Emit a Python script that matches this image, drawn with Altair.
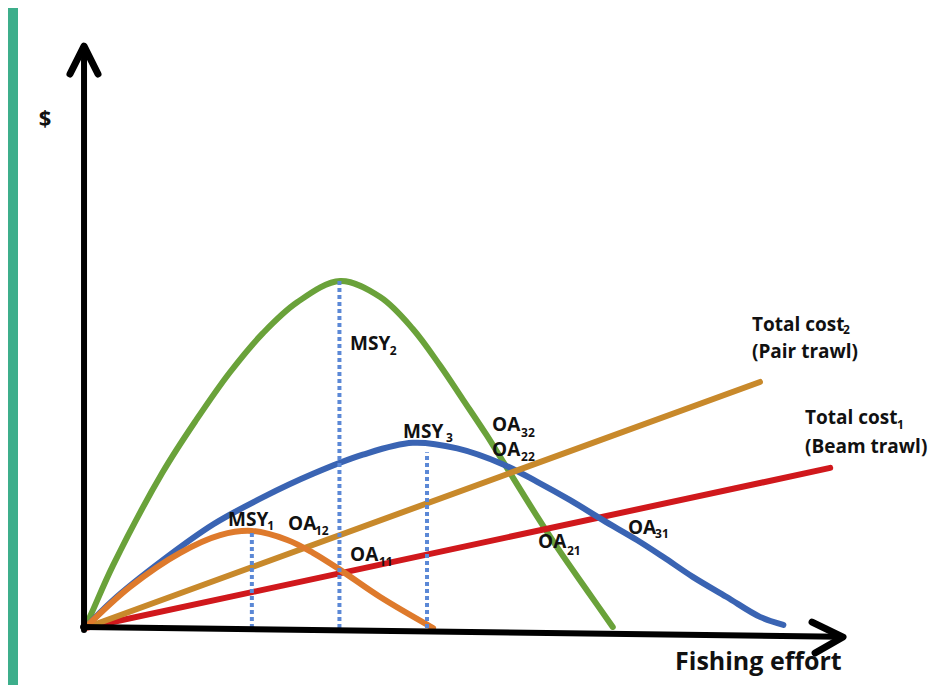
import altair as alt
import pandas as pd

# ---- data (x = fishing effort units, y = $ units) ----
green_E = [0, 1.06, 3.71, 10.3, 14.8, 19.2, 23.6, 28.1, 33.8, 39.1, 43.4, 47.0, 50.1, 53.2, 55.6, 59.9, 62.9, 66.5, 69.9]
green_V = [0, 5.2, 18.0, 44.8, 60.0, 73.5, 84.8, 93.6, 99.7, 95.1, 86.0, 75.5, 65.5, 55.4, 47.0, 32.0, 22.0, 10.8, 0.3]

orange_E = [0, 5.96, 12.6, 17.9, 22.1, 26.8, 30.2, 33.8, 39.1, 46.1]
orange_V = [0, 11.8, 21.6, 26.7, 27.9, 25.3, 21.6, 16.7, 8.9, 0]

blue_E = [0, 3.71, 10.3, 17.0, 23.6, 30.2, 36.8, 43.4, 49.3, 55.4, 59.9, 64.2, 68.6, 73.1, 76.6, 80.5, 85.0, 89.4, 92.5]
blue_V = [0, 8.0, 19.5, 29.8, 37.6, 44.3, 49.8, 53.2, 51.6, 47.0, 42.0, 36.8, 31.0, 25.3, 20.4, 14.7, 8.9, 3.2, 0.9]

cost2_E = [0, 89.4]   # Pair trawl
cost2_V = [0, 70.7]
cost1_E = [0, 98.7]   # Beam trawl
cost1_V = [0, 46.0]

msy_E = [22.1, 33.7, 45.3]
msy_V = [27.9, 99.7, 50.5]

# axes with arrowheads
yaxis_E = [-0.13, -0.13]
yaxis_V = [-0.6, 166.0]
yhead_E = [-1.99, -0.13, 1.72]
yhead_V = [159.2, 167.2, 159.2]
xaxis_E = [-0.26, 100.0]
xaxis_V = [0.3, -2.5]
xhead_E = [96.3, 100.4, 96.7]
xhead_V = [1.7, -2.6, -7.2]

# labels: main text and subscripts
lab_text = ["MSY", "OA", "OA", "MSY", "MSY", "OA", "OA", "OA", "OA",
            "Total cost", "(Pair trawl)", "Total cost", "(Beam trawl)"]
lab_E = [18.94, 26.89, 35.10, 35.10, 42.12, 53.91, 53.91, 60.0, 71.92, 88.34, 88.34, 95.36, 95.36]
lab_V = [31.03, 29.89, 20.98, 81.61, 56.32, 58.20, 51.15, 24.71, 28.74, 87.07, 79.31, 60.34, 52.01]

sub_text = ["1", "12", "11", "2", "3", "32", "22", "21", "31", "2", "1"]
sub_E = [24.15, 30.46, 38.94, 40.35, 47.80, 57.75, 57.75, 63.84, 75.50, 100.40, 107.55]
sub_V = [29.31, 27.87, 18.97, 79.60, 54.60, 55.90, 49.14, 22.13, 27.01, 85.63, 58.33]

axis_text = ["$", "Fishing effort"]
axis_E = [-5.30, 78.15]
axis_V = [146.3, -9.77]

# ---- scales ----
xs = alt.Scale(domain=[-10.2, 112.98], nice=False, zero=False)
ys = alt.Scale(domain=[-16.38, 178.16], nice=False, zero=False)


def X(f="E"):
    return alt.X(f"{f}:Q", scale=xs, axis=None)


def Y(f="V"):
    return alt.Y(f"{f}:Q", scale=ys, axis=None)


def line_layer(E, V, color, width=6, interp="catmull-rom"):
    df = pd.DataFrame({"E": E, "V": V})
    return alt.Chart(df).mark_line(color=color, strokeWidth=width, interpolate=interp,
                                   strokeCap="round", strokeJoin="round").encode(x=X(), y=Y())


band = alt.Chart(pd.DataFrame({"a": [0]})).mark_rect(color="#3dae8b").encode(
    x=alt.value(0), x2=alt.value(10), y=alt.value(0), y2=alt.value(677))

green = line_layer(green_E, green_V, "#6aa23a")
red = line_layer(cost1_E, cost1_V, "#d0181c", interp="linear")
blue = line_layer(blue_E, blue_V, "#3a64b3")
brown = line_layer(cost2_E, cost2_V, "#c8892b", interp="linear")
orange = line_layer(orange_E, orange_V, "#de7a2c")

msy_df = pd.DataFrame({"E": msy_E, "V0": [0, 0, 0], "V": msy_V})
dotted = alt.Chart(msy_df).mark_rule(color="#5b88d6", strokeWidth=4, strokeDash=[4, 3]).encode(
    x=X(), y=Y("V0"), y2="V:Q")

yaxis = line_layer(yaxis_E, yaxis_V, "#000000", width=6, interp="linear")
yhead = line_layer(yhead_E, yhead_V, "#000000", width=7, interp="linear")
xaxis = line_layer(xaxis_E, xaxis_V, "#000000", width=6, interp="linear")
xhead = alt.Chart(pd.DataFrame({"E": xhead_E, "V": xhead_V, "o": [0, 1, 2]})).mark_line(
    color="#000000", strokeWidth=7, strokeCap="round", strokeJoin="round").encode(
    x=X(), y=Y(), order="o:Q")

lab_df = pd.DataFrame({"t": lab_text, "E": lab_E, "V": lab_V})
labels = alt.Chart(lab_df).mark_text(align="left", baseline="middle", font="Open Sans",
                                     fontWeight="bold", fontSize=19, color="#111111").encode(
    x=X(), y=Y(), text="t:N")

sub_df = pd.DataFrame({"t": sub_text, "E": sub_E, "V": sub_V})
subs = alt.Chart(sub_df).mark_text(align="left", baseline="middle", font="Open Sans",
                                   fontWeight="bold", fontSize=12, color="#111111").encode(
    x=X(), y=Y(), text="t:N")

ax_df = pd.DataFrame({"t": axis_text, "E": axis_E, "V": axis_V})
ax_dollar = alt.Chart(ax_df.iloc[[0]]).mark_text(align="center", baseline="middle", font="Open Sans",
                                                 fontWeight="bold", fontSize=22, color="#111111").encode(
    x=X(), y=Y(), text="t:N")
ax_fish = alt.Chart(ax_df.iloc[[1]]).mark_text(align="left", baseline="middle", font="Open Sans",
                                               fontWeight="bold", fontSize=25, color="#111111").encode(
    x=X(), y=Y(), text="t:N")

chart = alt.layer(
    band, green, red, blue, brown, orange, dotted,
    yaxis, yhead, xaxis, xhead, labels, subs, ax_dollar, ax_fish
).properties(
    width=930, height=677, padding=0,
    autosize=alt.AutoSizeParams(type="none"),
    background="white"
).configure_view(strokeOpacity=0)

chart.save("out.html", embed_options={"renderer": "svg", "actions": False})
